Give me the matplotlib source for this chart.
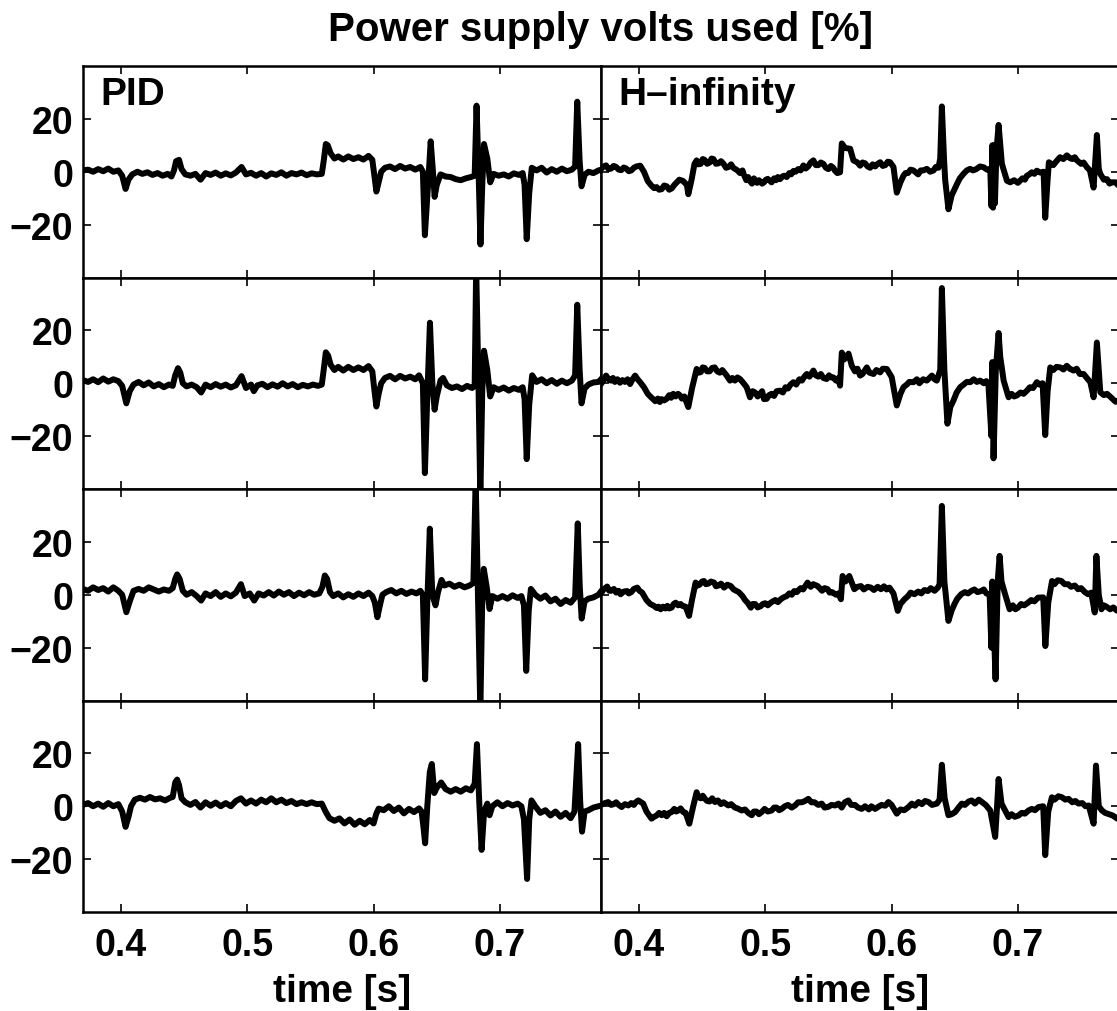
import matplotlib
matplotlib.use("Agg")
import matplotlib.pyplot as plt

plt.rcParams['font.family'] = ['Liberation Sans', 'DejaVu Sans']
plt.rcParams['font.weight'] = 'bold'
plt.rcParams['axes.unicode_minus'] = True

# ---------------- data (time [s], volts used [%]) ----------------
pid_1 = [(0.370, 0.5), (0.374, 0.8), (0.378, 0.0), (0.382, 1.0), (0.386, 0.2), (0.390, 1.2), (0.394, 0.0),
         (0.398, 0.5), (0.401, -1.5), (0.4037, -6.5), (0.406, -3.0), (0.409, -1.0), (0.413, 0.0), (0.417, -0.8),
         (0.421, -0.2), (0.425, -1.2), (0.429, -0.5), (0.433, -1.5), (0.437, -0.8), (0.440, -1.8), (0.442, 0.5),
         (0.4437, 4.0), (0.446, 4.5), (0.448, 1.0), (0.451, -1.0), (0.455, -1.5), (0.459, -0.8), (0.463, -3.0),
         (0.467, -0.5), (0.471, -1.2), (0.475, -0.3), (0.479, -1.5), (0.483, -0.6), (0.487, -1.4), (0.491, -0.3),
         (0.4955, 1.8), (0.499, -1.0), (0.503, -0.4), (0.507, -1.5), (0.511, -0.5), (0.515, -1.8), (0.519, -0.6),
         (0.523, -1.2), (0.527, -0.2), (0.531, -1.5), (0.535, -0.5), (0.539, -1.0), (0.543, -0.3), (0.547, -1.3),
         (0.551, -0.6), (0.555, -1.0), (0.559, -0.8), (0.5605, 4.0), (0.5622, 10.5), (0.5637, 10.0), (0.566, 7.0),
         (0.569, 5.0), (0.572, 5.8), (0.576, 4.6), (0.580, 5.8), (0.584, 4.8), (0.588, 5.5), (0.592, 4.6),
         (0.596, 6.0), (0.599, 4.5), (0.6005, -1.0), (0.6022, -7.5), (0.604, -4.0), (0.606, 0.0), (0.609, 1.5),
         (0.613, 2.0), (0.617, 1.0), (0.621, 2.2), (0.625, 1.2), (0.629, 1.8), (0.633, 0.8), (0.637, 1.8),
         (0.639, 0.0), (0.6406, -24.0), (0.6431, -5.0), (0.6452, 11.5), (0.6470, 0.0), (0.6483, -9.5), (0.650, -5.0),
         (0.653, -1.0), (0.657, -1.8), (0.661, -2.0), (0.665, -2.8), (0.669, -3.2), (0.673, -2.5), (0.677, -2.0),
         (0.680, -1.5), (0.6815, 25.0), (0.6831, 0.0), (0.6846, -27.5), (0.686, -5.0), (0.6874, 10.5), (0.690, 5.0),
         (0.6923, -4.0), (0.695, -0.8), (0.699, -1.5), (0.703, -1.0), (0.707, -1.8), (0.711, -0.6), (0.715, -1.2),
         (0.718, -0.5), (0.7195, -5.0), (0.7212, -25.5), (0.7232, -8.0), (0.7252, 1.5), (0.729, 0.5), (0.733, 1.5),
         (0.737, -0.3), (0.741, 1.0), (0.745, 0.0), (0.749, 1.2), (0.753, 0.2), (0.757, 0.8), (0.7595, 2.0),
         (0.7612, 26.5), (0.7631, 4.0), (0.7646, -5.5), (0.767, -1.2), (0.770, 0.0), (0.774, -0.5), (0.778, 0.5),
         (0.782, 1.0)]

pid_2 = [(0.370, 1.2), (0.374, 0.5), (0.378, 1.5), (0.382, 0.4), (0.386, 1.8), (0.390, 0.6), (0.394, 1.5),
         (0.398, 0.8), (0.401, -1.0), (0.4043, -7.6), (0.407, -3.0), (0.410, -0.5), (0.414, 0.5), (0.418, -0.8),
         (0.422, 0.3), (0.426, -1.2), (0.430, -0.3), (0.434, -1.5), (0.438, -0.5), (0.441, -1.0), (0.443, 3.0),
         (0.4452, 5.7), (0.447, 4.0), (0.449, 0.0), (0.452, -1.2), (0.456, -0.5), (0.460, -1.5), (0.4635, -3.5),
         (0.467, -0.5), (0.471, -1.5), (0.475, -0.3), (0.479, -1.3), (0.483, -0.5), (0.487, -1.6), (0.491, -0.8),
         (0.4955, 2.7), (0.499, -1.8), (0.503, -0.5), (0.5052, -3.0), (0.508, -0.8), (0.512, -0.2), (0.516, -1.5),
         (0.520, -0.4), (0.524, -1.3), (0.528, 0.0), (0.532, -1.2), (0.536, -0.3), (0.540, -1.5), (0.544, -0.6),
         (0.548, -1.2), (0.552, -0.5), (0.556, -1.0), (0.559, -0.5), (0.5605, 5.0), (0.5622, 11.7), (0.5640, 10.5),
         (0.566, 7.0), (0.569, 5.0), (0.572, 6.2), (0.576, 4.8), (0.580, 6.2), (0.584, 5.0), (0.588, 6.0),
         (0.592, 5.0), (0.596, 6.5), (0.599, 4.5), (0.6005, -2.0), (0.6022, -8.8), (0.604, -4.0), (0.606, 0.0),
         (0.609, 2.0), (0.613, 2.8), (0.617, 1.5), (0.621, 2.8), (0.625, 1.8), (0.629, 2.5), (0.633, 1.5),
         (0.636, 3.0), (0.639, 0.0), (0.6406, -34.0), (0.6425, -5.0), (0.6446, 22.9), (0.6465, 0.0), (0.6483, -10.0),
         (0.650, -5.0), (0.653, 1.1), (0.655, 2.0), (0.658, -0.8), (0.662, -1.8), (0.666, -1.2), (0.670, -2.2),
         (0.674, -1.0), (0.678, -1.8), (0.680, -1.0), (0.6812, 44.0), (0.6830, 0.0), (0.6845, -44.0), (0.6860, -3.0),
         (0.6874, 12.3), (0.690, 5.0), (0.6923, -5.0), (0.695, -1.5), (0.699, -2.5), (0.703, -1.6), (0.707, -2.8),
         (0.711, -1.8), (0.715, -2.5), (0.718, -1.5), (0.7195, -6.0), (0.7212, -28.7), (0.7232, -8.0), (0.7255, 3.0),
         (0.729, 0.5), (0.733, 1.5), (0.737, 0.0), (0.741, 1.2), (0.745, -0.2), (0.749, 1.0), (0.753, 0.0),
         (0.757, 1.0), (0.7595, 3.0), (0.7612, 29.7), (0.7631, 5.0), (0.7646, -7.6), (0.767, -2.0), (0.770, -0.5),
         (0.774, 0.3), (0.778, 0.5), (0.782, 2.5)]

pid_3 = [(0.370, 2.2), (0.374, 1.5), (0.378, 2.8), (0.382, 1.8), (0.386, 2.5), (0.390, 1.2), (0.394, 2.8),
         (0.398, 1.5), (0.401, 0.0), (0.4043, -6.6), (0.407, -2.5), (0.410, 1.5), (0.414, 2.2), (0.418, 1.5),
         (0.422, 2.8), (0.426, 2.0), (0.430, 1.2), (0.434, 2.0), (0.438, 1.5), (0.441, 2.5), (0.443, 6.0),
         (0.4445, 7.7), (0.4465, 6.0), (0.449, 1.5), (0.452, 0.0), (0.456, 1.0), (0.460, -0.5), (0.4635, -2.2),
         (0.467, 0.5), (0.471, -0.5), (0.475, 1.0), (0.479, -0.8), (0.483, 0.5), (0.487, -0.6), (0.491, 0.8),
         (0.495, 4.0), (0.498, -0.5), (0.502, 0.5), (0.5055, -2.2), (0.509, 0.5), (0.513, -0.3), (0.517, 1.0),
         (0.521, -0.3), (0.525, 1.2), (0.529, 0.0), (0.533, 1.0), (0.537, -0.5), (0.541, 0.8), (0.545, -0.2),
         (0.549, 1.0), (0.553, 0.0), (0.557, 0.5), (0.5595, 3.0), (0.5614, 7.3), (0.5632, 6.0), (0.5655, 1.0),
         (0.568, -0.5), (0.572, 0.5), (0.576, -1.0), (0.580, 0.2), (0.584, -0.8), (0.588, 0.5), (0.592, -0.5),
         (0.596, 0.8), (0.599, -0.5), (0.601, -3.0), (0.603, -8.5), (0.605, -4.0), (0.607, 0.0), (0.610, 1.0),
         (0.614, 1.8), (0.618, 0.5), (0.622, 1.5), (0.626, 0.3), (0.630, 1.2), (0.634, 0.5), (0.637, 1.5),
         (0.639, 0.0), (0.6408, -32.0), (0.6425, -3.0), (0.6445, 25.0), (0.6465, 0.0), (0.6490, -4.0), (0.651, 1.0),
         (0.6538, 5.6), (0.656, 3.5), (0.660, 4.2), (0.664, 3.0), (0.668, 3.8), (0.672, 2.8), (0.676, 3.5),
         (0.679, 4.5), (0.6808, 44.0), (0.6826, 0.0), (0.6845, -44.0), (0.6860, -2.0), (0.6872, 9.8), (0.6895, 3.0),
         (0.6918, -5.4), (0.694, -0.5), (0.698, -1.5), (0.702, -0.5), (0.706, -1.5), (0.710, -0.2), (0.714, -1.2),
         (0.717, -0.5), (0.719, -4.0), (0.7208, -28.8), (0.7228, -6.0), (0.7245, 2.2), (0.728, 0.0), (0.732, -1.5),
         (0.736, -0.3), (0.740, -2.5), (0.744, -1.5), (0.748, -3.5), (0.752, -2.0), (0.756, -3.0), (0.7595, -1.0),
         (0.7616, 27.0), (0.7632, 3.0), (0.7647, -9.0), (0.767, -2.5), (0.770, -1.5), (0.774, -1.0), (0.778, 0.0),
         (0.782, 2.5)]

pid_4 = [(0.370, 0.5), (0.374, 1.2), (0.378, 0.0), (0.382, 1.0), (0.386, -0.2), (0.390, 1.2), (0.394, 0.0),
         (0.398, 0.8), (0.401, -2.0), (0.4037, -7.8), (0.406, -4.0), (0.408, 0.0), (0.411, 2.5), (0.415, 3.2),
         (0.419, 2.5), (0.423, 3.5), (0.427, 2.6), (0.431, 3.0), (0.435, 2.2), (0.439, 3.2), (0.441, 3.5),
         (0.443, 9.0), (0.4445, 10.1), (0.446, 8.0), (0.448, 3.0), (0.451, 1.5), (0.455, 0.5), (0.459, 1.6),
         (0.463, -0.5), (0.467, 1.5), (0.471, 0.2), (0.475, 1.4), (0.479, 0.0), (0.483, 1.2), (0.487, 0.0),
         (0.491, 2.0), (0.495, 3.0), (0.499, 1.0), (0.503, 2.2), (0.507, 1.0), (0.511, 2.5), (0.515, 1.5),
         (0.519, 3.0), (0.523, 1.5), (0.527, 2.5), (0.531, 1.2), (0.535, 2.0), (0.539, 0.8), (0.543, 1.5),
         (0.547, 0.8), (0.551, 1.5), (0.555, 0.8), (0.559, 1.0), (0.562, -2.0), (0.565, -4.5), (0.569, -5.5),
         (0.573, -4.6), (0.577, -6.5), (0.581, -5.0), (0.585, -7.0), (0.589, -5.5), (0.593, -6.8), (0.597, -5.2),
         (0.600, -6.5), (0.602, -3.0), (0.604, -0.9), (0.608, -1.5), (0.612, 0.0), (0.616, -1.8), (0.620, -0.5),
         (0.624, -2.7), (0.628, -1.0), (0.632, -2.2), (0.636, -0.8), (0.638, -2.0), (0.6395, -8.0), (0.6408, -14.0),
         (0.6425, 0.0), (0.6445, 13.0), (0.6461, 16.0), (0.6480, 5.0), (0.650, 7.0), (0.6535, 9.0), (0.657, 6.5),
         (0.661, 5.5), (0.665, 6.5), (0.669, 5.5), (0.673, 6.8), (0.677, 6.0), (0.680, 8.5), (0.6818, 23.5),
         (0.6836, 2.0), (0.6855, -16.5), (0.6875, -2.0), (0.6900, 1.0), (0.6918, -3.4), (0.694, 0.0), (0.698, 1.5),
         (0.702, 0.0), (0.706, 1.2), (0.710, 0.3), (0.714, 1.0), (0.717, 0.0), (0.719, -5.0), (0.7215, -27.5),
         (0.7232, -5.0), (0.7250, 2.2), (0.728, 0.0), (0.732, -2.5), (0.736, -1.5), (0.740, -3.5), (0.744, -2.0),
         (0.748, -4.0), (0.752, -2.5), (0.756, -4.5), (0.759, -2.0), (0.7619, 23.5), (0.7635, 2.0), (0.7650, -9.6),
         (0.767, -2.0), (0.770, -1.5), (0.774, -0.5), (0.778, 0.0), (0.782, 0.5)]

hinf_1 = [(0.365, 0.5), (0.368, 1.8), (0.370, 1.0), (0.372, 2.0), (0.374, 2.4), (0.376, 1.0), (0.378, 1.2),
          (0.380, 2.2), (0.382, 1.8), (0.384, 0.8), (0.386, 0.6), (0.388, 1.6), (0.390, 1.2), (0.392, 0.2),
          (0.394, 0.5), (0.396, 1.5), (0.398, 2.0), (0.401, 2.3), (0.404, 0.0), (0.407, -3.5), (0.410, -5.3),
          (0.412, -6.2), (0.414, -5.8), (0.416, -6.8), (0.418, -6.6), (0.420, -5.2), (0.422, -5.5), (0.424, -6.8),
          (0.426, -6.3), (0.428, -5.0), (0.429, -4.5), (0.432, -3.0), (0.435, -3.5), (0.438, -5.0), (0.4391, -8.5),
          (0.4417, -3.0), (0.4440, 3.0), (0.4457, 4.3), (0.447, 2.8), (0.449, 3.0), (0.4505, 4.8), (0.452, 4.5),
          (0.454, 3.0), (0.456, 3.5), (0.4575, 5.0), (0.459, 4.8), (0.461, 3.0), (0.463, 3.2), (0.465, 4.0),
          (0.467, 3.0), (0.469, 1.5), (0.471, 1.8), (0.473, 2.8), (0.4747, 1.5), (0.478, 0.5), (0.480, -0.5),
          (0.482, 0.5), (0.483, -1.0), (0.485, -3.2), (0.4865, -2.0), (0.4879, -3.5), (0.4895, -4.5), (0.491, -2.5),
          (0.4935, -4.2), (0.495, -3.2), (0.4975, -4.5), (0.499, -4.0), (0.5005, -3.0), (0.502, -2.7),
          (0.5038, -3.5), (0.505, -4.0), (0.507, -2.5), (0.5085, -3.2), (0.510, -2.0), (0.5117, -2.8),
          (0.5135, -1.8), (0.515, -1.5), (0.517, -2.0), (0.519, -0.5), (0.5205, -1.0), (0.5223, 0.3), (0.524, 0.0),
          (0.526, 1.0), (0.528, 0.5), (0.5302, 2.4), (0.532, 1.2), (0.534, 2.0), (0.536, 3.5), (0.5381, 4.3),
          (0.540, 2.5), (0.542, 2.5), (0.544, 3.5), (0.546, 3.0), (0.548, 1.5), (0.550, 1.0), (0.552, 2.2),
          (0.5539, 1.5), (0.555, 0.5), (0.557, -0.5), (0.5592, -0.2), (0.5606, 10.7), (0.5632, 9.0), (0.5672, 8.7),
          (0.5698, 4.3), (0.573, 3.5), (0.5751, 2.3), (0.577, 3.5), (0.579, 3.2), (0.581, 2.0), (0.583, 1.5),
          (0.585, 2.8), (0.587, 2.0), (0.589, 3.0), (0.591, 3.6), (0.593, 2.2), (0.595, 2.5), (0.597, 3.8),
          (0.5988, 3.6), (0.6015, 1.8), (0.6041, -7.9), (0.607, -4.0), (0.6094, -1.5), (0.611, -0.5), (0.613, -0.5),
          (0.615, 0.8), (0.6173, 0.5), (0.619, -0.2), (0.621, -1.0), (0.623, 0.5), (0.625, 0.5), (0.6279, 1.1),
          (0.6305, 0.0), (0.6332, 0.5), (0.635, 1.8), (0.6371, 1.5), (0.6385, 5.0), (0.6398, 24.7), (0.6415, 5.0),
          (0.6424, -3.0), (0.6450, -14.2), (0.6475, -9.0), (0.6517, -4.7), (0.654, -2.5), (0.6569, -0.8),
          (0.6595, 0.5), (0.6622, 1.1), (0.6645, 0.5), (0.667, 1.0), (0.670, 2.0), (0.6728, 1.7), (0.6755, 0.8),
          (0.6781, 1.1), (0.6790, -13.0), (0.6797, 10.0), (0.6803, -13.6), (0.6810, 10.0), (0.6818, -12.0),
          (0.6830, 8.0), (0.6847, 17.7), (0.6873, 3.0), (0.6913, -3.4), (0.6939, -4.0), (0.697, -3.2), (0.700, -4.2),
          (0.7035, -2.5), (0.7055, -3.0), (0.7071, -1.5), (0.709, -1.0), (0.711, -0.2), (0.713, -0.8), (0.7150, 0.4),
          (0.7175, -0.3), (0.7203, 0.0), (0.7216, -17.4), (0.7235, -3.0), (0.7245, 3.6), (0.728, 2.5), (0.7305, 4.0),
          (0.7333, 5.5), (0.736, 4.8), (0.7387, 6.2), (0.741, 5.2), (0.743, 4.8), (0.745, 5.5), (0.7467, 4.3),
          (0.750, 3.0), (0.752, 3.5), (0.7546, 1.7), (0.757, 0.5), (0.7599, -6.0), (0.7625, 13.9), (0.7640, 1.0),
          (0.7652, -0.8), (0.768, -3.0), (0.7705, -2.8), (0.7725, -4.5), (0.774, -4.0), (0.7773, -4.0),
          (0.780, -5.5), (0.782, -4.5)]

hinf_2 = [(0.365, 0.0), (0.367, 1.5), (0.370, -0.3), (0.372, 1.2), (0.374, 2.9), (0.376, 1.5), (0.378, 1.0),
          (0.3795, 2.0), (0.381, 0.5), (0.383, 1.5), (0.385, 0.2), (0.387, 1.2), (0.389, 0.5), (0.391, 1.5),
          (0.393, -0.3), (0.395, 1.5), (0.397, 2.9), (0.399, 1.5), (0.4008, 0.5), (0.404, -1.5), (0.407, -4.0),
          (0.409, -5.0), (0.4110, -5.9), (0.413, -6.8), (0.415, -5.8), (0.4166, -7.1), (0.418, -6.0), (0.420, -6.5),
          (0.4219, -5.9), (0.424, -4.5), (0.4255, -5.5), (0.4272, -4.0), (0.429, -5.0), (0.431, -4.0),
          (0.4325, -4.6), (0.434, -5.8), (0.436, -5.0), (0.4391, -9.0), (0.442, -2.0), (0.4457, 5.4), (0.447, 4.0),
          (0.449, 4.2), (0.4505, 6.0), (0.452, 5.8), (0.454, 4.5), (0.456, 4.5), (0.458, 5.8), (0.460, 6.0),
          (0.462, 4.5), (0.464, 4.0), (0.466, 5.0), (0.4695, 2.9), (0.4721, 1.0), (0.474, 2.0), (0.476, 1.0),
          (0.478, 2.2), (0.4800, 1.6), (0.482, 0.5), (0.4853, -1.5), (0.4879, -5.3), (0.490, -3.0), (0.492, -3.5),
          (0.494, -5.0), (0.4959, -4.0), (0.4975, -3.0), (0.499, -6.0), (0.5011, -5.9), (0.503, -4.5), (0.505, -4.0),
          (0.507, -4.8), (0.509, -3.0), (0.5117, -2.8), (0.514, -3.5), (0.516, -1.5), (0.518, -2.0), (0.520, -0.5),
          (0.5223, 0.4), (0.5245, -0.5), (0.527, 1.5), (0.529, 1.0), (0.531, 2.5), (0.5329, 3.5), (0.535, 2.5),
          (0.5381, 4.8), (0.540, 3.0), (0.542, 2.5), (0.544, 3.5), (0.546, 2.0), (0.5486, 1.6), (0.5505, 3.0),
          (0.552, 2.2), (0.5539, 2.2), (0.556, 1.0), (0.558, 2.0), (0.5592, -0.9), (0.5606, 11.6), (0.5625, 9.0),
          (0.5659, 11.2), (0.5685, 6.6), (0.571, 4.5), (0.573, 5.5), (0.5751, 2.9), (0.577, 3.5), (0.579, 5.0),
          (0.5804, 6.0), (0.5825, 4.0), (0.5857, 3.5), (0.588, 5.0), (0.5909, 4.1), (0.593, 5.5), (0.5962, 5.4),
          (0.598, 4.0), (0.6001, 2.3), (0.6041, -8.4), (0.607, -4.0), (0.6094, -1.5), (0.612, -0.5), (0.614, 0.5),
          (0.6173, 0.4), (0.620, 1.5), (0.622, 0.0), (0.625, 1.5), (0.6279, 1.0), (0.6319, 2.9), (0.634, 1.5),
          (0.6358, 1.0), (0.6385, 5.0), (0.6398, 36.0), (0.6418, 5.0), (0.6442, -15.3), (0.6465, -9.0),
          (0.6490, -6.5), (0.6515, -3.5), (0.6543, -1.5), (0.657, -0.5), (0.6595, 0.5), (0.6622, 0.4), (0.665, 1.5),
          (0.6675, 0.5), (0.6701, 1.0), (0.673, 0.0), (0.675, 0.8), (0.6767, -0.9), (0.6790, -20.0), (0.6797, 8.0),
          (0.6807, -28.4), (0.6825, 5.0), (0.6847, 19.0), (0.6860, 10.0), (0.6887, 1.0), (0.6926, -5.3),
          (0.695, -4.0), (0.697, -5.0), (0.6992, -4.6), (0.702, -3.5), (0.7045, -4.0), (0.7071, -2.8),
          (0.7095, -1.5), (0.712, -1.8), (0.7150, 0.4), (0.717, -0.5), (0.7195, 0.0), (0.7216, -19.6),
          (0.7235, -3.0), (0.7256, 6.0), (0.728, 5.0), (0.7305, 6.2), (0.7335, 6.0), (0.736, 5.2), (0.7387, 6.6),
          (0.741, 5.5), (0.7440, 4.8), (0.7465, 5.5), (0.749, 3.5), (0.7520, 3.5), (0.7545, 2.0), (0.7573, 0.4),
          (0.7599, -5.3), (0.7625, 15.4), (0.7652, -3.4), (0.768, -4.5), (0.7705, -4.0), (0.774, -5.5),
          (0.7773, -7.0), (0.782, -6.5)]

hinf_3 = [(0.365, -1.0), (0.367, 1.0), (0.370, 0.5), (0.372, 2.0), (0.3749, 3.1), (0.3765, 1.5), (0.378, 1.5),
          (0.3802, 2.2), (0.382, 0.8), (0.384, 1.5), (0.3855, 0.2), (0.388, 1.2), (0.3907, 1.4), (0.392, 0.5),
          (0.394, 1.0), (0.396, 2.2), (0.3987, 2.7), (0.4005, 1.5), (0.4026, 0.8), (0.406, -2.0), (0.409, -3.5),
          (0.4119, -4.2), (0.414, -5.0), (0.4155, -4.5), (0.4172, -5.5), (0.419, -4.5), (0.421, -5.2),
          (0.4225, -4.2), (0.424, -5.2), (0.426, -4.8), (0.4275, -3.5), (0.4291, -3.0), (0.431, -4.0), (0.433, -3.5),
          (0.4344, -4.2), (0.437, -4.5), (0.4397, -8.0), (0.442, -2.0), (0.4449, 4.6), (0.4465, 3.5), (0.448, 3.8),
          (0.450, 5.0), (0.4515, 5.2), (0.453, 4.0), (0.455, 4.2), (0.457, 5.0), (0.4595, 4.6), (0.461, 3.2),
          (0.463, 3.5), (0.465, 4.2), (0.4674, 2.7), (0.470, 3.8), (0.4727, 3.3), (0.475, 2.0), (0.477, 1.5),
          (0.479, 1.0), (0.4806, 0.2), (0.482, -0.5), (0.484, -2.0), (0.486, -3.0), (0.4886, -4.9), (0.490, -3.5),
          (0.492, -3.5), (0.494, -4.8), (0.4965, -4.3), (0.498, -3.5), (0.500, -3.2), (0.502, -4.0), (0.5044, -3.0),
          (0.506, -2.5), (0.508, -2.0), (0.510, -2.8), (0.5123, -1.7), (0.5145, -1.0), (0.517, -0.5), (0.519, 0.5),
          (0.521, 0.0), (0.5229, 1.4), (0.525, 1.0), (0.528, 2.5), (0.530, 2.0), (0.532, 3.5), (0.5335, 4.6),
          (0.536, 3.0), (0.538, 4.0), (0.5414, 3.3), (0.543, 2.5), (0.545, 1.5), (0.547, 2.5), (0.5494, 2.1),
          (0.551, 0.8), (0.553, 1.0), (0.556, 0.0), (0.558, 0.5), (0.5599, -1.7), (0.5612, 7.1), (0.5635, 5.0),
          (0.5665, 7.1), (0.5705, 2.1), (0.573, 3.0), (0.5758, 3.3), (0.578, 2.0), (0.581, 3.0), (0.5837, 2.7),
          (0.586, 1.8), (0.589, 3.0), (0.5916, 2.1), (0.594, 3.2), (0.596, 2.0), (0.5983, 2.7), (0.6015, 0.5),
          (0.6049, -6.1), (0.607, -3.5), (0.6102, -1.7), (0.613, -0.5), (0.615, 0.8), (0.6181, 0.2), (0.621, 1.2),
          (0.6235, 0.5), (0.626, 1.8), (0.6287, 1.4), (0.631, 2.5), (0.634, 1.5), (0.6366, 2.7), (0.638, 4.0),
          (0.6398, 33.6), (0.6418, 5.0), (0.6450, -9.9), (0.6475, -6.0), (0.6498, -3.5), (0.652, -1.5),
          (0.6551, 0.2), (0.658, 1.0), (0.6605, 0.5), (0.6630, 1.4), (0.6655, 2.0), (0.668, 1.0), (0.6709, 1.4),
          (0.673, 2.0), (0.675, 0.5), (0.6776, 0.2), (0.6790, -20.0), (0.6797, 5.0), (0.6823, -32.0), (0.6840, 5.0),
          (0.6855, 14.7), (0.6870, 5.0), (0.6895, 0.8), (0.6934, -5.5), (0.696, -4.0), (0.698, -5.5), (0.7000, -4.9),
          (0.7025, -3.5), (0.705, -4.0), (0.7080, -3.0), (0.7105, -2.0), (0.713, -2.5), (0.7159, -1.1),
          (0.7200, -1.0), (0.7217, -19.4), (0.7240, -3.0), (0.7270, 5.2), (0.729, 4.0), (0.7315, 5.5),
          (0.7344, 5.2), (0.737, 4.0), (0.7397, 4.0), (0.742, 3.0), (0.745, 3.5), (0.7476, 2.1), (0.750, 2.5),
          (0.753, 1.0), (0.7555, 0.2), (0.758, 0.8), (0.7608, -6.7), (0.7621, 14.7), (0.7640, 0.0), (0.7661, -5.5),
          (0.768, -4.0), (0.770, -4.5), (0.773, -5.5), (0.7755, -4.8), (0.7783, -6.0), (0.782, -5.5)]

hinf_4 = [(0.365, -0.3), (0.367, 1.0), (0.370, 0.5), (0.372, 1.0), (0.3757, 1.6), (0.378, 0.5), (0.380, 0.8),
          (0.382, 1.5), (0.384, 0.5), (0.3863, -0.3), (0.389, 0.8), (0.3916, 0.3), (0.394, 1.2), (0.396, 0.5),
          (0.3975, 1.5), (0.3995, 2.2), (0.4034, 1.0), (0.406, -2.0), (0.4100, -4.7), (0.412, -4.0), (0.414, -3.5),
          (0.416, -2.5), (0.4180, -3.4), (0.420, -2.5), (0.422, -3.8), (0.424, -2.5), (0.4259, -2.2), (0.428, -1.0),
          (0.4295, -2.0), (0.4312, -1.6), (0.433, -0.8), (0.4351, -2.2), (0.437, -2.5), (0.4399, -6.6),
          (0.443, 0.0), (0.4457, 5.3), (0.447, 3.5), (0.449, 3.0), (0.4505, 4.0), (0.4523, 2.8), (0.454, 2.0),
          (0.456, 1.8), (0.458, 3.0), (0.4602, 1.6), (0.4625, 2.2), (0.465, 0.8), (0.467, 1.5), (0.4708, 0.3),
          (0.473, 0.8), (0.476, -0.5), (0.478, -0.8), (0.4813, -1.6), (0.484, -1.2), (0.4865, -2.5), (0.4893, -3.4),
          (0.491, -2.0), (0.493, -2.0), (0.495, -3.0), (0.4972, -2.2), (0.4995, -1.0), (0.502, -2.0),
          (0.5051, -1.6), (0.507, -0.5), (0.509, -0.5), (0.511, -1.5), (0.5130, -1.0), (0.5155, 0.0), (0.518, 0.5),
          (0.521, -0.5), (0.5236, 0.3), (0.526, 1.5), (0.529, 1.5), (0.5315, 2.0), (0.5341, 2.8), (0.5365, 1.5),
          (0.539, 1.5), (0.542, 0.5), (0.5447, 1.0), (0.547, -0.5), (0.550, -0.2), (0.5525, 0.5), (0.5553, 0.3),
          (0.558, 1.0), (0.5605, -0.5), (0.563, 1.5), (0.5658, 2.2), (0.568, 0.5), (0.571, 0.5), (0.5735, -0.5),
          (0.5764, -1.0), (0.579, 0.0), (0.582, -1.2), (0.584, 0.0), (0.5870, -1.0), (0.5895, -0.2), (0.592, 0.5),
          (0.595, 0.2), (0.5975, 1.6), (0.600, 0.5), (0.6041, -2.8), (0.607, -1.2), (0.610, -1.5), (0.6134, -0.3),
          (0.616, 1.0), (0.6185, 0.2), (0.6213, 1.6), (0.624, 0.8), (0.6265, 2.0), (0.6292, 1.6), (0.632, 0.5),
          (0.6358, 1.0), (0.638, 2.5), (0.6398, 15.7), (0.6420, 3.0), (0.6450, -3.4), (0.6475, -3.0),
          (0.6503, -2.2), (0.653, -0.5), (0.6556, 1.0), (0.658, 0.5), (0.661, 1.8), (0.6635, 2.2), (0.666, 1.0),
          (0.669, 2.5), (0.6715, 1.6), (0.6745, 0.5), (0.6781, -1.6), (0.6820, -11.6), (0.6835, 0.0),
          (0.6847, 10.3), (0.6870, 1.0), (0.6926, -4.1), (0.695, -3.0), (0.6975, -4.0), (0.7005, -3.5),
          (0.703, -2.5), (0.7055, -2.8), (0.7084, -1.6), (0.711, -1.0), (0.7135, -1.5), (0.7163, -0.3),
          (0.7200, 0.0), (0.7216, -18.5), (0.7240, -2.0), (0.7269, 3.4), (0.729, 2.5), (0.732, 3.8), (0.7348, 3.4),
          (0.7375, 2.5), (0.7401, 2.8), (0.743, 1.5), (0.7455, 2.0), (0.7480, 1.0), (0.751, 1.2), (0.7535, 0.0),
          (0.7560, 0.3), (0.7599, -6.6), (0.7618, 15.4), (0.7640, 0.0), (0.7665, -1.6), (0.769, -2.5),
          (0.772, -3.0), (0.775, -3.5), (0.7787, -4.7), (0.782, -4.5)]

controllers = ["PID", "H–infinity"]
time_ticks = [0.4, 0.5, 0.6, 0.7]
time_labels = ["0.4", "0.5", "0.6", "0.7"]
volt_ticks = [-20, 0, 20]
volt_labels = ["\u221220", "0", "20"]
title = "Power supply volts used [%]"
xlabel = "time [s]"

series = [[pid_1, pid_2, pid_3, pid_4], [hinf_1, hinf_2, hinf_3, hinf_4]]

# ---------------- layout ----------------
W, H = 1117, 1012
fig = plt.figure(figsize=(W / 100, H / 100), dpi=100)
col_left = [83, 601]
col_w = 518
top_px = 67
row_h = 211.5

for c in range(2):
    for r in range(4):
        ax = fig.add_axes([col_left[c] / W, 1 - (top_px + (r + 1) * row_h) / H, col_w / W, row_h / H])
        t = [p[0] for p in series[c][r]]
        v = [p[1] for p in series[c][r]]
        ax.plot(t, v, color='black', lw=4.3, solid_joinstyle='round', solid_capstyle='round')
        ax.set_xlim(0.37, 0.78)
        ax.set_ylim(-40, 40)
        ax.set_xticks(time_ticks)
        ax.set_yticks(volt_ticks)
        ax.tick_params(direction='in', top=True, right=True, length=6, width=1.2, labelsize=27)
        ax.tick_params(axis='x', pad=11)
        ax.tick_params(axis='y', pad=7)
        for s in ax.spines.values():
            s.set_linewidth(1.8)
        if c == 0:
            ax.set_yticklabels(volt_labels)
        else:
            ax.set_yticklabels([])
        if r == 3:
            ax.set_xticklabels(time_labels)
            ax.set_xlabel(xlabel, fontsize=28, fontweight='bold', labelpad=7)
        else:
            ax.set_xticklabels([])
        if r == 0:
            ax.text(0.033, 0.955, controllers[c], transform=ax.transAxes, ha='left', va='top',
                    fontsize=28, fontweight='bold')

fig.text(601 / W, 1 - 30 / H, title, ha='center', va='center', fontsize=29, fontweight='bold')

fig.savefig("out.png", dpi=100)
